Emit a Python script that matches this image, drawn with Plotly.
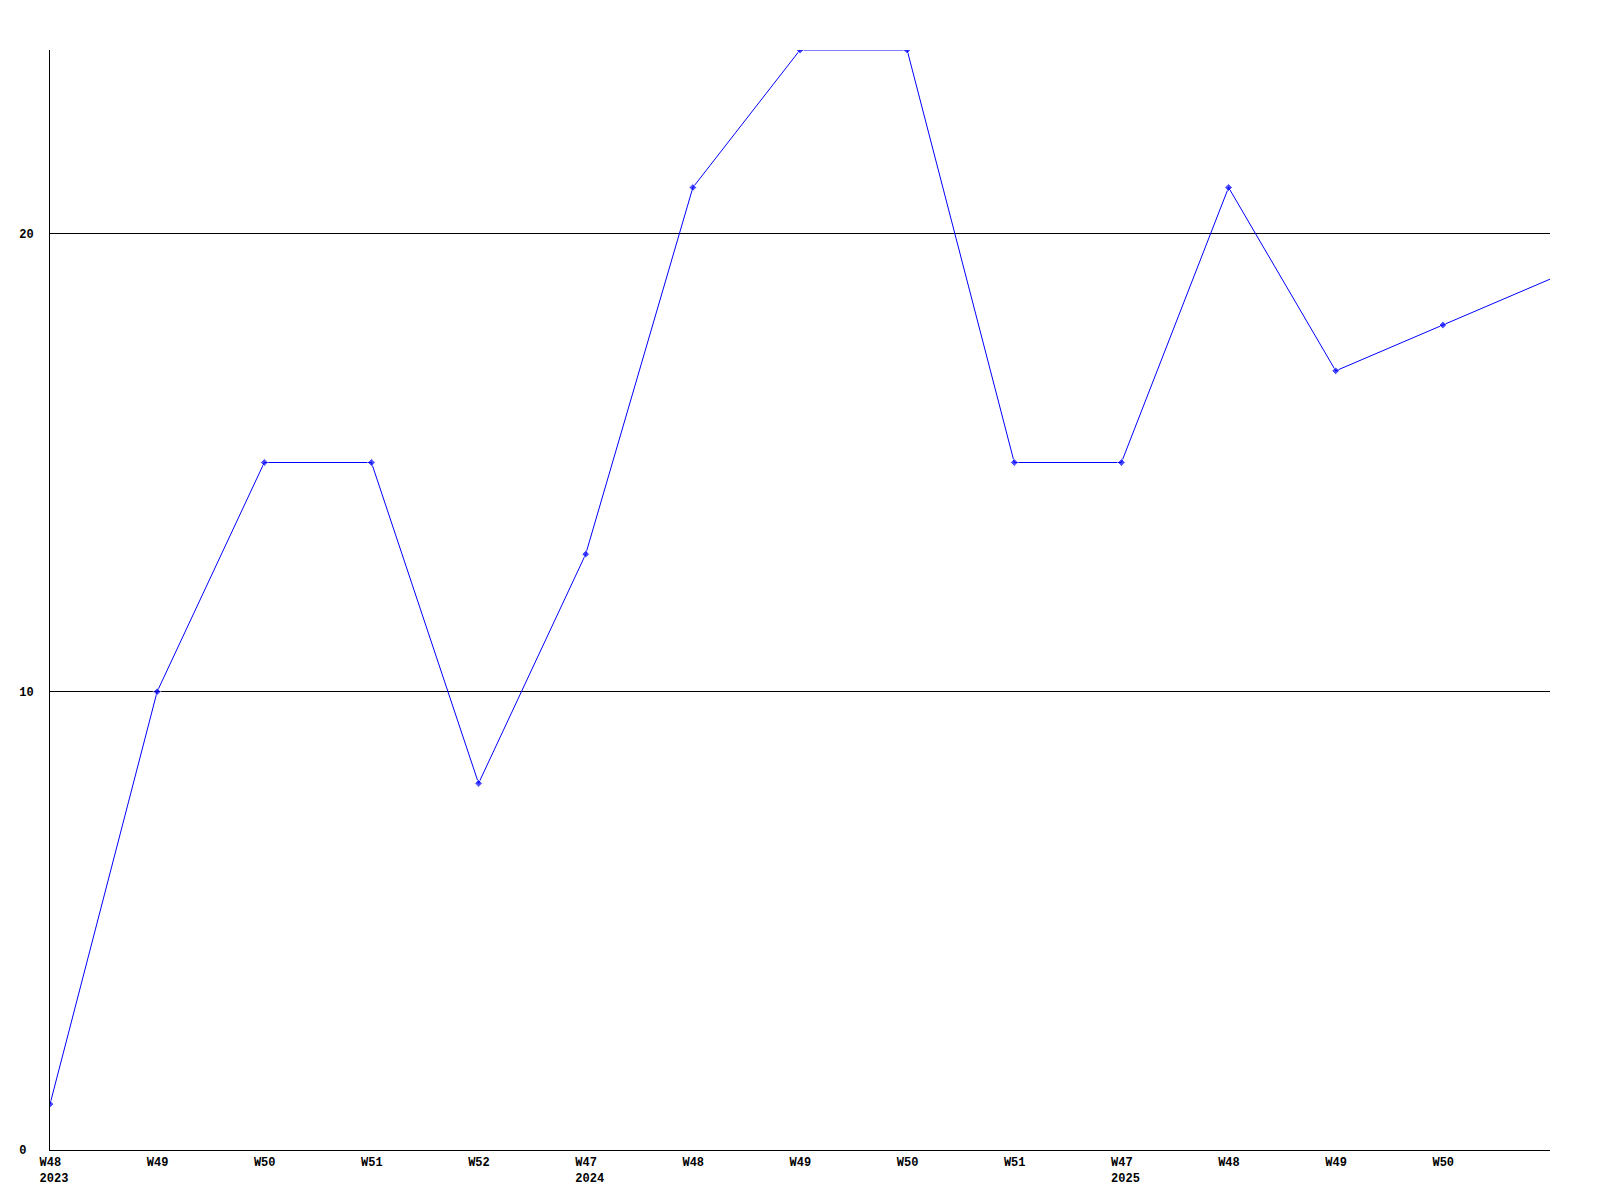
import plotly.graph_objects as go

weeks = ["W48", "W49", "W50", "W51", "W52", "W47", "W48", "W49", "W50", "W51",
         "W47", "W48", "W49", "W50", "W51"]
years = ["2023", "", "", "", "", "2024", "", "", "", "", "2025", "", "", "", ""]
values = [1, 10, 15, 15, 8, 13, 21, 24, 24, 15, 15, 21, 17, 18, 19]

y_ticks = [0, 10, 20]
y_ticktext = ["0\u00a0", "10", "20"]

x_idx = list(range(len(values)))
# pad to 4 characters (monospace) so that the labels are left-aligned
labels = [w + "\u00a0" + ("<br>" + y if y else "") for w, y in zip(weeks, years)]

marker_sizes = [6] * (len(values) - 1) + [0]

fig = go.Figure()
fig.add_trace(go.Scatter(
    x=x_idx, y=values, mode="lines+markers",
    line=dict(color="#0000ff", width=1),
    marker=dict(symbol="diamond", size=marker_sizes, color="#0000ff"),
    showlegend=False,
))

font = dict(family="Liberation Mono", size=12, color="#000000")

fig.update_layout(
    width=1600, height=1200,
    margin=dict(l=42, r=58, t=42, b=58, autoexpand=False),
    paper_bgcolor="white", plot_bgcolor="white",
    font=font,
    xaxis=dict(
        range=[0, len(values) - 1],
        tickmode="array", tickvals=x_idx[:-1], ticktext=labels[:-1],
        showgrid=False, zeroline=False,
        showline=True, linecolor="black", linewidth=1,
        ticks="", ticklabelstandoff=1, ticklabelshift=4,
        tickfont=dict(family="Liberation Mono", size=12, weight="bold"),
    ),
    yaxis=dict(
        range=[0, 24],
        tickmode="array", tickvals=y_ticks, ticktext=y_ticktext,
        showgrid=True, gridcolor="black", gridwidth=1,
        zeroline=False,
        showline=True, linecolor="black", linewidth=1,
        ticks="", ticklabelstandoff=13,
        tickfont=dict(family="Liberation Mono", size=12, weight="bold"),
    ),
)

fig.write_html("out.html")
